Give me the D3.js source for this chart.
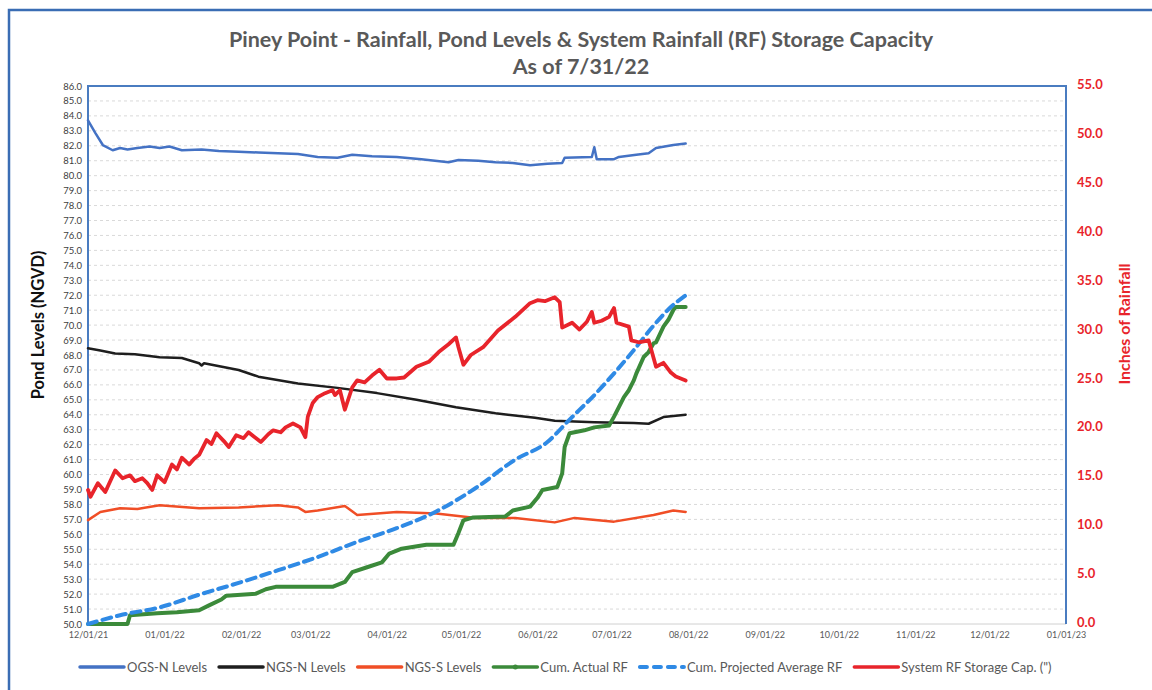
<!DOCTYPE html>
<html>
<head>
<meta charset="utf-8">
<script src="https://cdn.jsdelivr.net/npm/d3@7"></script>
<style>
  body { margin: 0; background: #fff; }
  svg text { font-family: Lato, "Open Sans", sans-serif; }
</style>
</head>
<body>
<div id="chart"></div>
<script>
/* values: [date, value] */
const ogsN = [
  ["2021-12-01", 83.7], ["2021-12-04", 82.85], ["2021-12-07", 82.05], ["2021-12-11", 81.7],
  ["2021-12-14", 81.85], ["2021-12-17", 81.75], ["2021-12-21", 81.85], ["2021-12-26", 81.95],
  ["2021-12-30", 81.85], ["2022-01-03", 81.95], ["2022-01-08", 81.7], ["2022-01-16", 81.75],
  ["2022-01-23", 81.65], ["2022-01-31", 81.6], ["2022-02-08", 81.55], ["2022-02-16", 81.5],
  ["2022-02-24", 81.45], ["2022-03-04", 81.25], ["2022-03-12", 81.2], ["2022-03-18", 81.4],
  ["2022-03-26", 81.3], ["2022-04-05", 81.25], ["2022-04-15", 81.1], ["2022-04-26", 80.9],
  ["2022-04-30", 81.05], ["2022-05-08", 81.0], ["2022-05-15", 80.9], ["2022-05-22", 80.85],
  ["2022-05-29", 80.7], ["2022-06-05", 80.8], ["2022-06-11", 80.85], ["2022-06-12", 81.2],
  ["2022-06-23", 81.25], ["2022-06-24", 81.9], ["2022-06-25", 81.1], ["2022-07-02", 81.1],
  ["2022-07-04", 81.25], ["2022-07-11", 81.4], ["2022-07-16", 81.5], ["2022-07-19", 81.85],
  ["2022-07-26", 82.05], ["2022-07-31", 82.15]
];

const ngsN = [
  ["2021-12-01", 68.45], ["2021-12-06", 68.3], ["2021-12-12", 68.1], ["2021-12-20", 68.05],
  ["2021-12-30", 67.85], ["2022-01-08", 67.8], ["2022-01-15", 67.45], ["2022-01-16", 67.3],
  ["2022-01-17", 67.45], ["2022-01-31", 67.0], ["2022-02-08", 66.55], ["2022-02-24", 66.1],
  ["2022-03-12", 65.8], ["2022-03-28", 65.45], ["2022-04-13", 65.0], ["2022-04-29", 64.5],
  ["2022-05-15", 64.1], ["2022-05-31", 63.8], ["2022-06-08", 63.6], ["2022-06-24", 63.5],
  ["2022-07-10", 63.45], ["2022-07-16", 63.4], ["2022-07-22", 63.85], ["2022-07-31", 64.0]
];

const ngsS = [
  ["2021-12-01", 56.95], ["2021-12-06", 57.5], ["2021-12-14", 57.75], ["2021-12-21", 57.7],
  ["2021-12-30", 57.95], ["2022-01-07", 57.85], ["2022-01-15", 57.75], ["2022-01-31", 57.8],
  ["2022-02-16", 57.95], ["2022-02-24", 57.8], ["2022-02-27", 57.5], ["2022-03-04", 57.6],
  ["2022-03-15", 57.9], ["2022-03-20", 57.3], ["2022-04-05", 57.5], ["2022-04-21", 57.4],
  ["2022-05-07", 57.1], ["2022-05-23", 57.1], ["2022-06-08", 56.8], ["2022-06-16", 57.1],
  ["2022-07-02", 56.85], ["2022-07-18", 57.3], ["2022-07-26", 57.6], ["2022-07-31", 57.5]
];

const cumActualRF = [
  ["2021-12-01", 0.0], ["2021-12-17", 0.0], ["2021-12-18", 0.9], ["2021-12-29", 1.1],
  ["2022-01-06", 1.2], ["2022-01-15", 1.4], ["2022-01-19", 1.9], ["2022-01-24", 2.5],
  ["2022-01-26", 2.9], ["2022-02-07", 3.1], ["2022-02-11", 3.55], ["2022-02-15", 3.8],
  ["2022-03-10", 3.8], ["2022-03-15", 4.3], ["2022-03-18", 5.3], ["2022-03-24", 5.8],
  ["2022-03-30", 6.3], ["2022-04-02", 7.2], ["2022-04-07", 7.7], ["2022-04-17", 8.1],
  ["2022-04-28", 8.1], ["2022-04-30", 9.3], ["2022-05-02", 10.6], ["2022-05-06", 10.9],
  ["2022-05-19", 11.0], ["2022-05-22", 11.6], ["2022-05-29", 12.0], ["2022-06-01", 12.9],
  ["2022-06-03", 13.7], ["2022-06-09", 14.0], ["2022-06-11", 15.4], ["2022-06-12", 18.1],
  ["2022-06-14", 19.5], ["2022-06-20", 19.8], ["2022-06-24", 20.1], ["2022-06-30", 20.3],
  ["2022-07-02", 21.2], ["2022-07-04", 22.2], ["2022-07-06", 23.2], ["2022-07-08", 23.9],
  ["2022-07-10", 24.9], ["2022-07-11", 25.6], ["2022-07-14", 27.3], ["2022-07-16", 27.8],
  ["2022-07-18", 28.7], ["2022-07-19", 28.8], ["2022-07-22", 30.4], ["2022-07-24", 31.1],
  ["2022-07-26", 32.1], ["2022-07-27", 32.4], ["2022-07-31", 32.4]
];

const cumProjectedRF = [
  ["2021-12-01", 0.0], ["2021-12-14", 0.9], ["2021-12-30", 1.7], ["2022-01-15", 3.0],
  ["2022-01-31", 4.2], ["2022-02-16", 5.5], ["2022-03-04", 6.85], ["2022-03-20", 8.4],
  ["2022-04-05", 9.8], ["2022-04-21", 11.5], ["2022-05-07", 13.9], ["2022-05-23", 16.8],
  ["2022-06-05", 18.6], ["2022-06-14", 20.9], ["2022-06-24", 23.4], ["2022-07-10", 28.0],
  ["2022-07-18", 30.5], ["2022-07-25", 32.4], ["2022-07-31", 33.6]
];

const systemStorage = [
  ["2021-12-01", 13.7], ["2021-12-02", 13.0], ["2021-12-05", 14.4], ["2021-12-08", 13.5],
  ["2021-12-12", 15.7], ["2021-12-15", 14.9], ["2021-12-18", 15.2], ["2021-12-20", 14.6],
  ["2021-12-23", 14.9], ["2021-12-25", 14.4], ["2021-12-27", 13.7], ["2021-12-29", 15.2],
  ["2022-01-01", 14.5], ["2022-01-04", 16.3], ["2022-01-06", 15.8], ["2022-01-08", 17.0],
  ["2022-01-11", 16.3], ["2022-01-13", 16.9], ["2022-01-15", 17.3], ["2022-01-18", 18.8],
  ["2022-01-20", 18.4], ["2022-01-22", 19.5], ["2022-01-25", 18.7], ["2022-01-27", 18.1],
  ["2022-01-30", 19.3], ["2022-02-02", 19.0], ["2022-02-04", 19.6], ["2022-02-06", 19.2],
  ["2022-02-09", 18.6], ["2022-02-12", 19.4], ["2022-02-14", 19.8], ["2022-02-17", 19.6],
  ["2022-02-19", 20.1], ["2022-02-22", 20.5], ["2022-02-25", 20.1], ["2022-02-27", 19.1],
  ["2022-02-28", 21.2], ["2022-03-02", 22.6], ["2022-03-04", 23.2], ["2022-03-07", 23.6],
  ["2022-03-10", 23.9], ["2022-03-11", 23.4], ["2022-03-13", 23.9], ["2022-03-15", 21.9],
  ["2022-03-18", 24.2], ["2022-03-20", 24.9], ["2022-03-23", 24.7], ["2022-03-26", 25.4],
  ["2022-03-29", 26.0], ["2022-04-01", 25.1], ["2022-04-05", 25.1], ["2022-04-08", 25.2],
  ["2022-04-13", 26.3], ["2022-04-18", 26.8], ["2022-04-22", 27.8], ["2022-04-26", 28.6],
  ["2022-04-29", 29.3], ["2022-04-30", 28.3], ["2022-05-02", 26.5], ["2022-05-05", 27.5],
  ["2022-05-10", 28.3], ["2022-05-16", 30.0], ["2022-05-23", 31.4], ["2022-05-29", 32.8],
  ["2022-06-01", 33.1], ["2022-06-04", 33.0], ["2022-06-07", 33.3], ["2022-06-08", 33.4],
  ["2022-06-10", 32.9], ["2022-06-11", 30.3], ["2022-06-15", 30.8], ["2022-06-18", 30.1],
  ["2022-06-21", 30.9], ["2022-06-23", 31.9], ["2022-06-24", 30.8], ["2022-06-27", 31.0],
  ["2022-06-30", 31.4], ["2022-07-02", 32.3], ["2022-07-03", 30.8], ["2022-07-08", 30.4],
  ["2022-07-09", 29.0], ["2022-07-12", 28.8], ["2022-07-16", 29.0], ["2022-07-19", 26.3],
  ["2022-07-22", 26.7], ["2022-07-25", 25.7], ["2022-07-27", 25.3], ["2022-07-31", 24.9]
];

const xDomain = ["2021-12-01", "2023-01-01"];
const leftDomain = [50, 86];
const rightDomain = [0, 55];
const titleLines = ["Piney Point - Rainfall, Pond Levels & System Rainfall (RF) Storage Capacity", "As of 7/31/22"];
const leftLabel = "Pond Levels (NGVD)";
const rightLabel = "Inches of Rainfall";

const seriesList = [
  { name: "OGS-N Levels", data: ogsN, axis: "left", color: "#4472c4", width: 2.5 },
  { name: "NGS-N Levels", data: ngsN, axis: "left", color: "#1e1e1e", width: 2.5 },
  { name: "NGS-S Levels", data: ngsS, axis: "left", color: "#f04e26", width: 2.5 },
  { name: "Cum. Actual RF", data: cumActualRF, axis: "right", color: "#3b8a3a", width: 4, marker: true },
  { name: "Cum. Projected Average RF", data: cumProjectedRF, axis: "right", color: "#2f8ae5", width: 4, dash: "9,6", smooth: true },
  { name: "System RF Storage Cap. (\")", data: systemStorage, axis: "right", color: "#e8242b", width: 3.8 }
];

const W = 1152, H = 690;
const m = { left: 88, right: 1066, top: 86, bottom: 624 };
const parse = d3.timeParse("%Y-%m-%d");

const svg = d3.select("#chart").append("svg").attr("width", W).attr("height", H);

// outer frame
svg.append("path")
  .attr("d", "M9," + H + "V10H" + W)
  .attr("fill", "none").attr("stroke", "#3a6db4").attr("stroke-width", 2.5);

const x = d3.scaleTime().domain(xDomain.map(parse)).range([m.left, m.right]);
const yL = d3.scaleLinear().domain(leftDomain).range([m.bottom, m.top]);
const yR = d3.scaleLinear().domain(rightDomain).range([m.bottom, m.top]);

// gridlines
svg.append("g")
  .selectAll("line").data(d3.range(leftDomain[0] + 1, leftDomain[1] + 0.5, 1)).enter()
  .append("line")
  .attr("x1", m.left).attr("x2", m.right)
  .attr("y1", d => yL(d)).attr("y2", d => yL(d))
  .attr("stroke", "#d9d9d9").attr("stroke-width", 1).attr("stroke-dasharray", "3,3");

// plot border
svg.append("line").attr("x1", m.left).attr("x2", m.right).attr("y1", m.bottom).attr("y2", m.bottom)
  .attr("stroke", "#d0d0d0").attr("stroke-width", 1);
svg.append("path")
  .attr("d", "M" + m.left + "," + m.bottom + "V" + m.top + "H" + m.right + "V" + m.bottom)
  .attr("fill", "none").attr("stroke", "#4a7cc0").attr("stroke-width", 2);

// axes
const leftAxis = d3.axisLeft(yL).tickValues(d3.range(leftDomain[0], leftDomain[1] + 0.5, 1))
  .tickFormat(d3.format(".1f")).tickSize(0).tickPadding(6);
const gL = svg.append("g").attr("transform", "translate(" + m.left + ",0)").call(leftAxis);
gL.select(".domain").remove();
gL.selectAll("text").attr("fill", "#404040").style("font-size", "9.5px").style("font-family", "Lato, sans-serif");

const rightAxis = d3.axisRight(yR).tickValues(d3.range(rightDomain[0], rightDomain[1] + 0.5, 5))
  .tickFormat(d3.format(".1f")).tickSize(0).tickPadding(11);
const gR = svg.append("g").attr("transform", "translate(" + m.right + ",0)").call(rightAxis);
gR.select(".domain").remove();
gR.selectAll("text").attr("fill", "#e8242b").attr("dy", "0.2em").style("font-size", "13px").style("font-weight", "bold")
  .style("font-family", "Lato, sans-serif");

const bottomAxis = d3.axisBottom(x).ticks(d3.timeMonth.every(1))
  .tickFormat(d3.timeFormat("%m/%d/%y")).tickSize(0).tickPadding(8);
const gB = svg.append("g").attr("transform", "translate(0," + m.bottom + ")").call(bottomAxis);
gB.select(".domain").remove();
gB.selectAll("text").attr("fill", "#595959").style("font-size", "9px").style("font-family", "Lato, sans-serif");

// series
seriesList.forEach(s => {
  const y = s.axis === "left" ? yL : yR;
  const line = d3.line()
    .x(d => x(parse(d[0])))
    .y(d => y(d[1]))
    .curve(s.smooth ? d3.curveMonotoneX : d3.curveLinear);
  svg.append("path")
    .datum(s.data)
    .attr("d", line)
    .attr("fill", "none")
    .attr("stroke", s.color)
    .attr("stroke-width", s.width)
    .attr("stroke-linejoin", "round")
    .attr("stroke-linecap", "round")
    .attr("stroke-dasharray", s.dash || null);
});

// titles
svg.append("text").attr("x", 581).attr("y", 47).attr("text-anchor", "middle")
  .style("font-size", "21.5px").style("font-weight", "bold").attr("fill", "#595959").text(titleLines[0]);
svg.append("text").attr("x", 581).attr("y", 74).attr("text-anchor", "middle")
  .style("font-size", "21.5px").style("font-weight", "bold").attr("fill", "#595959").text(titleLines[1]);

svg.append("text")
  .attr("transform", "translate(44," + 325 + ") rotate(-90)")
  .attr("text-anchor", "middle")
  .style("font-size", "16.5px").style("font-weight", "bold").attr("fill", "#111")
  .text(leftLabel);

svg.append("text")
  .attr("transform", "translate(1130," + 324 + ") rotate(-90)")
  .attr("text-anchor", "middle")
  .style("font-size", "16px").style("font-weight", "bold").attr("fill", "#e8242b")
  .text(rightLabel);

// legend
const legend = svg.append("g");
let lx = 80;
const ly = 667;
seriesList.forEach(s => {
  const item = legend.append("g");
  item.append("line")
    .attr("x1", lx).attr("x2", lx + 44).attr("y1", ly).attr("y2", ly)
    .attr("stroke", s.color).attr("stroke-width", s.dash ? 4 : 3.5)
    .attr("stroke-linecap", "round")
    .attr("stroke-dasharray", s.dash ? "7,7" : null);
  if (s.marker) {
    item.append("circle").attr("cx", lx + 22).attr("cy", ly).attr("r", 2.5).attr("fill", s.color);
  }
  const t = item.append("text")
    .attr("x", lx + 47).attr("y", ly + 4.5)
    .style("font-size", "13px").attr("fill", "#595959")
    .text(s.name);
  lx += 47 + t.node().getComputedTextLength() + 12;
});
</script>
</body>
</html>
